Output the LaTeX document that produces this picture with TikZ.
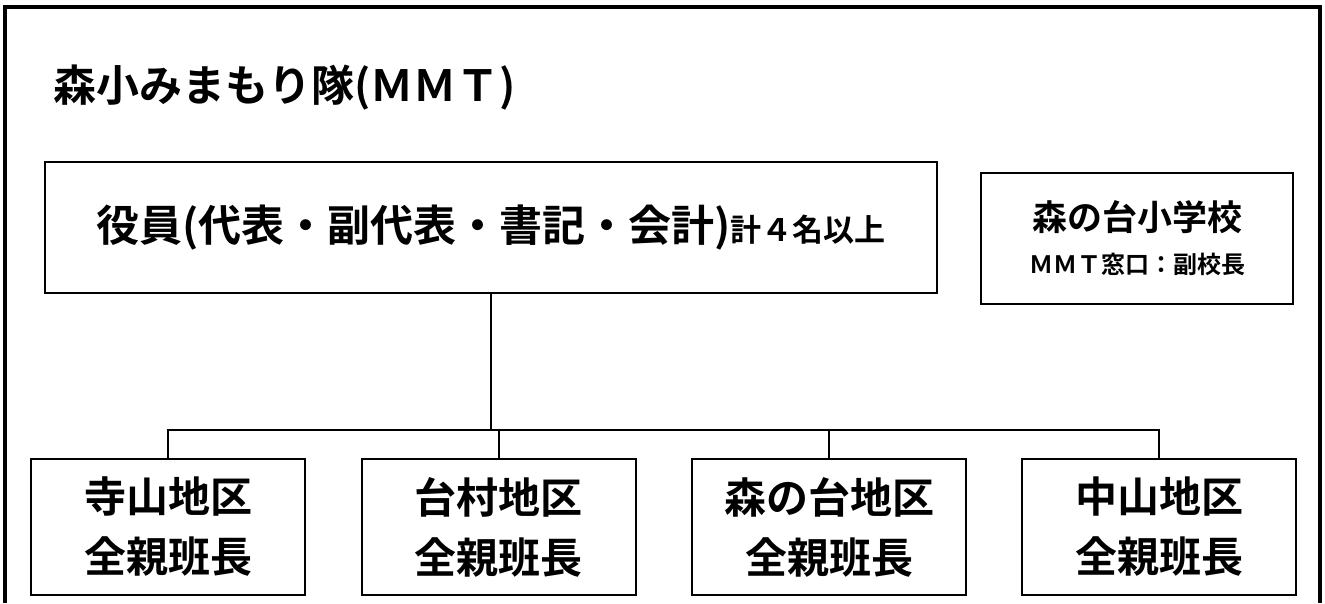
\documentclass[tikz,border=0pt]{standalone}
\usepackage{fontspec}
\setmainfont{Noto Sans CJK JP}[BoldFont={Noto Sans CJK JP Bold}]
\usetikzlibrary{positioning}

\begin{document}
\begin{tikzpicture}[x=1pt,y=-1pt,
  waku/.style={draw,line width=2pt,align=center,inner sep=0pt},
  chiku/.style={waku,minimum width=274pt,minimum height=136pt,
    font=\bfseries\fontsize{42pt}{60pt}\selectfont},
  sen/.style={line width=2pt}]
\useasboundingbox (0,0) rectangle (1325,603);
% outer frame (open at the bottom)
\draw[line width=4.5pt] (5,603) -- (5,7) -- (1320,7) -- (1320,603);

\node[anchor=west,inner sep=0pt,font=\bfseries\fontsize{43pt}{43pt}\selectfont]
  (title) at (53,88) {森小みまもり隊(ＭＭＴ)};

\node[waku,minimum width=892pt,minimum height=131pt,
  font=\bfseries\fontsize{43pt}{43pt}\selectfont] (yakuin) at (491,227.5)
  {役員(代表・副代表・書記・会計){\fontsize{31pt}{31pt}\selectfont 計４名以上}};
\node[waku,minimum width=312pt,minimum height=131pt,
  font=\bfseries\fontsize{35pt}{43pt}\selectfont] (gakko) at (1137,238.5)
  {森の台小学校\\{\fontsize{24pt}{26pt}\selectfont ＭＭＴ窓口：副校長}};

\node[chiku] (terayama) at (168,527) {寺山地区\\全親班長};
\node[chiku] (daimura) at (498.5,527) {台村地区\\全親班長};
\node[chiku] (morinodai) at (829,527) {森の台地区\\全親班長};
\node[chiku] (nakayama) at (1159,527) {中山地区\\全親班長};

\coordinate (bunki) at (491,430);
\draw[sen] (yakuin.south) -- (bunki);
\foreach \n in {terayama,daimura,morinodai,nakayama}
  \draw[sen] (bunki) -| (\n.north);
\end{tikzpicture}
\end{document}
